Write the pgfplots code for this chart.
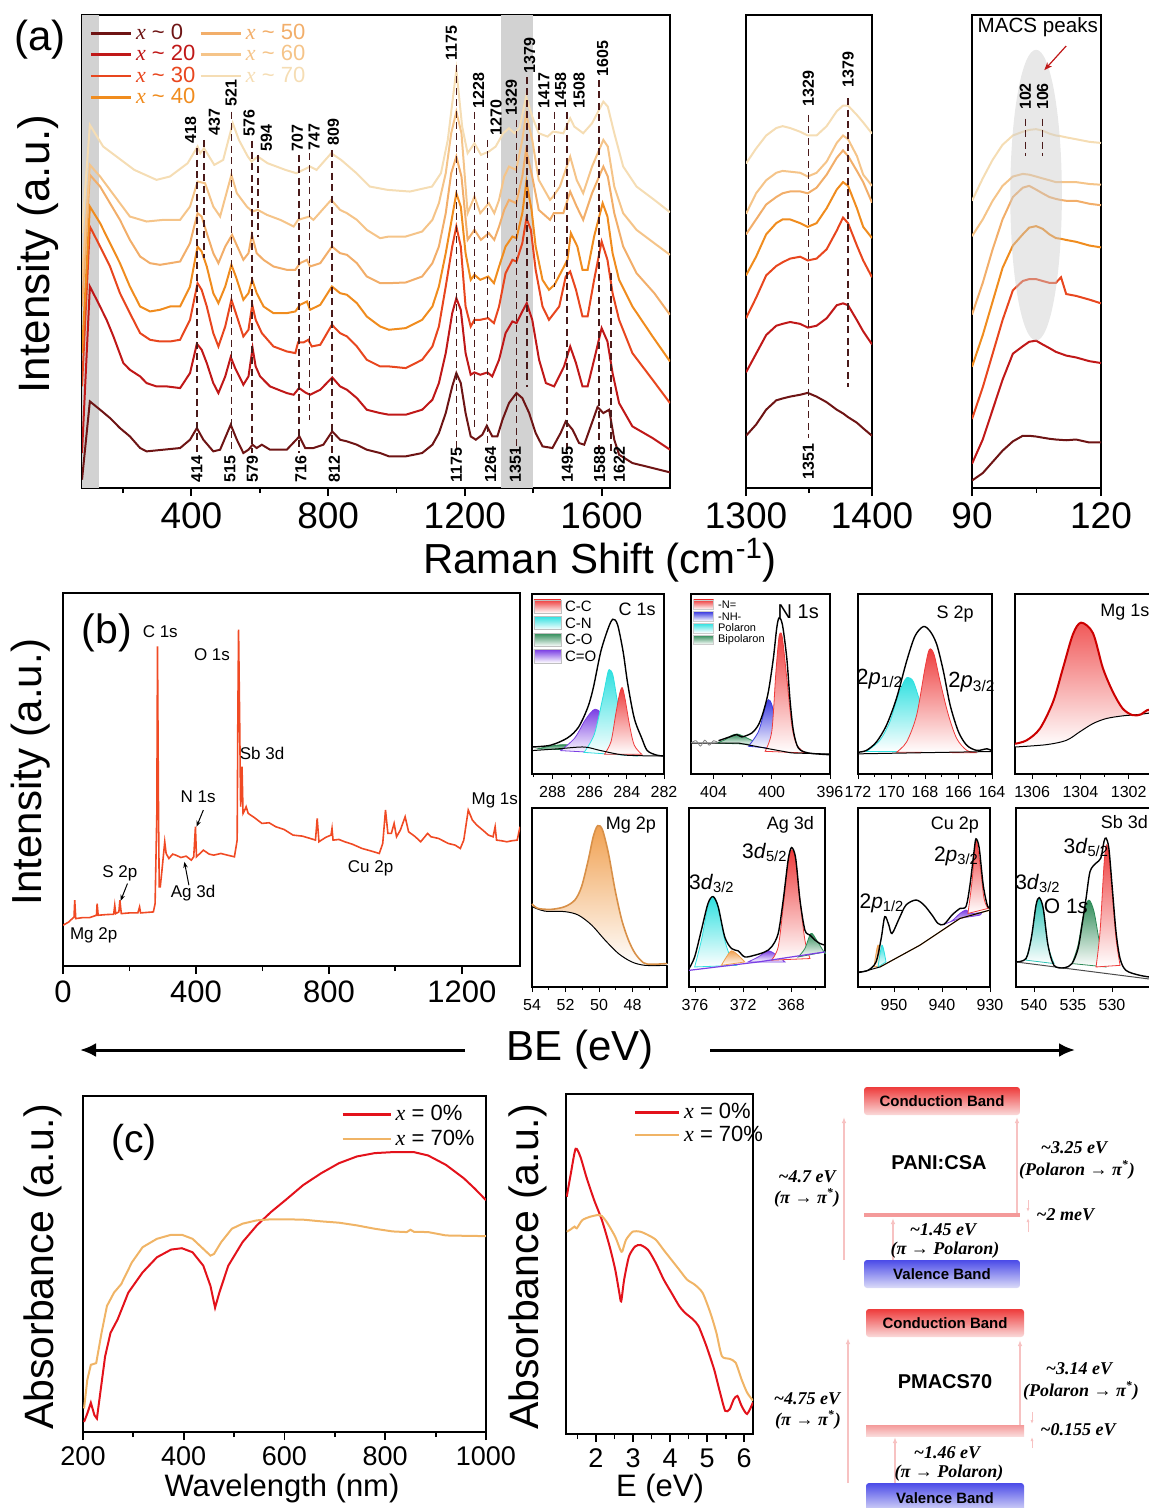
\documentclass[border=0pt]{standalone}
\usepackage{pgfplots}
\pgfplotsset{compat=1.18}
\usepackage{pgfplotstable}
\usepackage{fontspec}
\setmainfont{Liberation Sans}
\newfontfamily\serif{Liberation Serif}
\usetikzlibrary{arrows.meta}
\definecolor{cA}{HTML}{6E1414}
\definecolor{cB}{HTML}{C01818}
\definecolor{cC}{HTML}{E8461E}
\definecolor{cD}{HTML}{F08C1E}
\definecolor{cE}{HTML}{F2AE6A}
\definecolor{cF}{HTML}{F5C489}
\definecolor{cG}{HTML}{F5DDB4}
\definecolor{dashc}{HTML}{4A1A1A}
\definecolor{surv}{HTML}{F04A24}
\definecolor{absred}{HTML}{E3121B}
\definecolor{absor}{HTML}{F0B466}
\definecolor{xred}{HTML}{EE3B3B}
\definecolor{xcyan}{HTML}{2EE0E0}
\definecolor{xgreen}{HTML}{2E8B57}
\definecolor{xpurp}{HTML}{7B3FE4}
\definecolor{xblue}{HTML}{3B3BE0}
\definecolor{xorange}{HTML}{F0A050}
\definecolor{xteal}{HTML}{2EC4B6}
\definecolor{cbTop}{HTML}{EE3B3B}
\definecolor{cbBot}{HTML}{FADADA}
\definecolor{vbTop}{HTML}{4B4BE8}
\definecolor{vbBot}{HTML}{DCDCF8}
\definecolor{pol}{HTML}{F49A9A}
\definecolor{pale}{HTML}{F7C2C2}
\newcommand{\fs}[1]{\fontsize{#1}{#1}\selectfont}
\newcommand{\xv}{{\serif\itshape x}}
\newcommand{\ev}[1]{{\serif\bfseries\itshape #1}}
\newcommand{\dl}[3]{\draw[dashc, dash pattern=on 3.5pt off 2.2pt, line width=0.8pt] (axis cs:#1,#2) -- (axis cs:#1,#3);}
\newcommand{\pl}[3]{\node[rotate=90, anchor=west, font=\fs{8}\bfseries, inner sep=0.5pt] at (axis cs:#1,#2) {#3};}
\pgfplotsset{
  myax/.style={scale only axis, anchor=north west, axis line style={line width=1.1pt},
    ytick=\empty, xtick pos=left, tick align=outside,
    major tick length=4pt, minor tick length=2.5pt,
    every tick/.style={black, line width=0.9pt},
    /pgf/number format/assume math mode=true, /pgf/number format/1000 sep={},
    xticklabel style={font=\fs{18.5}}},
  subax/.style={myax, axis line style={line width=0.7pt}, major tick length=2.5pt, minor tick length=1.5pt,
    every tick/.style={black, line width=0.5pt}, xticklabel style={font=\fs{8}}, x dir=reverse, ymin=0, ymax=100, clip=false},
  comp/.style={draw=#1, line width=0.4pt, top color=#1, bottom color=white, smooth, tension=0.5},
}

\pgfplotstableread{
x c0 c20 c30 c40 c50 c60 c70
1300 1170 1000 855 740 630 575 440
1308 1140 950 800 690 590 520 400
1316 1100 900 740 630 550 485 365
1324 1075 875 715 600 530 465 345
1329 1070 870 705 590 520 460 340
1335 1065 865 695 590 515 462 345
1343 1060 870 690 600 515 465 355
1349 1055 880 700 610 520 475 365
1356 1065 875 695 600 505 465 365
1364 1080 855 670 560 470 435 340
1372 1100 820 620 510 425 385 300
1377 1110 815 585 490 405 365 285
1381 1120 820 600 500 420 375 285
1388 1135 860 660 560 460 420 310
1393 1150 890 700 610 490 470 330
1400 1170 925 745 640 545 500 360
}\insetA

\pgfplotstableread{
x c0 c20 c30 c40 c50 c60 c70
90 1290 1245 1125 985 845 635 540
92.5 1270 1180 1040 900 760 590 480
94.8 1240 1100 950 810 670 540 430
97.1 1210 1020 860 720 590 500 390
99.5 1185 950 780 660 530 475 365
101.8 1170 930 755 630 505 468 355
103.3 1170 918 750 612 500 470 350
104.9 1172 915 750 608 510 475 348
106.4 1175 925 755 615 520 480 352
108 1178 935 760 630 530 485 360
109.5 1180 945 760 640 535 490 365
110.7 1181 950 745 642 538 490 367
111.9 1182 955 790 645 540 490 370
114.2 1180 960 795 650 540 490 375
117.3 1188 970 805 660 548 495 382
120 1188 975 815 665 552 497 385
}\insetB

\begin{document}
\begin{tikzpicture}
\useasboundingbox (0,0) rectangle (574pt,-754pt);

% ================= (a) main Raman =================
\begin{axis}[myax, at={(41pt,-7.5pt)}, width=294pt, height=236.5pt,
  axis line style={line width=1.4pt},
  xmin=80, xmax=1800, y dir=reverse, ymin=-315, ymax=1105,
  xtick={400,800,1200,1600}, minor xtick={200,600,1000,1400},
  legend style={at={(0.012,0.99)}, anchor=north west, draw=none, fill=none, font=\fs{11}, row sep=-2.5pt, inner sep=0pt},
  legend columns=4, transpose legend, legend cell align=left,
  legend image code/.code={\draw[#1, line width=1.3pt] (0pt,0pt) -- (20pt,0pt);}]
\addplot[fill=gray!35, draw=none, forget plot] coordinates {(80,-315) (130,-315) (130,1105) (80,1105)} --cycle;
\addplot[fill=gray!35, draw=none, forget plot] coordinates {(1305,-315) (1400,-315) (1400,1105) (1305,1105)} --cycle;
\addplot[cA, line width=1pt] coordinates {(80,1080) (103,845) (133,870) (162,895) (191,925) (220,950) (250,985) (269,995) (318,990) (367,985) (396,960) (416,925) (435,960) (464,995) (484,990) (515,915) (533,960) (552,1000) (567,990) (579,975) (591,985) (606,975) (630,990) (679,990) (716,950) (733,985) (757,985) (786,975) (812,935) (835,960) (855,965) (884,975) (913,990) (952,1000) (978,1010) (1027,1010) (1075,1000) (1105,975) (1124,940) (1144,880) (1163,800) (1175,760) (1188,790) (1202,880) (1217,950) (1232,960) (1251,945) (1264,918) (1280,950) (1295,950) (1310,900) (1329,850) (1351,820) (1368,835) (1388,880) (1407,940) (1427,980) (1456,985) (1480,940) (1495,905) (1515,930) (1534,970) (1549,975) (1568,920) (1588,862) (1605,880) (1622,870) (1637,960) (1651,1005) (1690,1030) (1749,1045) (1800,1058)};
\addlegendentry{\textcolor{cA}{\xv{} \textasciitilde{} 0}}
\addplot[cB, line width=1pt] coordinates {(80,1000) (103,500) (123,540) (152,600) (172,650) (201,730) (220,750) (250,770) (269,790) (298,800) (328,800) (367,805) (396,760) (416,672) (430,690) (445,730) (464,790) (479,820) (499,770) (515,712) (528,745) (552,795) (567,770) (579,685) (588,740) (601,770) (630,800) (679,820) (699,825) (715,805) (733,818) (747,825) (777,810) (812,773) (835,800) (855,810) (884,835) (913,870) (952,880) (978,885) (1027,885) (1075,870) (1105,840) (1124,790) (1144,700) (1163,580) (1175,535) (1188,570) (1202,700) (1217,765) (1228,758) (1245,765) (1266,758) (1280,770) (1300,720) (1319,640) (1339,605) (1351,610) (1368,575) (1381,550) (1397,600) (1417,720) (1437,790) (1461,800) (1490,740) (1508,680) (1525,730) (1544,800) (1559,800) (1578,720) (1600,625) (1617,665) (1632,760) (1651,850) (1690,920) (1749,955) (1800,990)};
\addlegendentry{\textcolor{cB}{\xv{} \textasciitilde{} 20}}
\addplot[cC, line width=1pt] coordinates {(80,800) (103,320) (133,380) (162,440) (191,520) (220,580) (250,640) (279,660) (308,665) (338,665) (367,660) (396,600) (418,490) (430,510) (445,560) (464,640) (479,680) (499,620) (517,540) (530,580) (552,650) (567,630) (578,555) (588,600) (606,640) (640,680) (679,695) (704,700) (712,668) (728,668) (742,660) (752,680) (777,675) (811,615) (835,640) (855,650) (884,680) (913,720) (952,740) (978,740) (1027,745) (1075,720) (1105,680) (1124,620) (1144,500) (1163,380) (1175,320) (1188,380) (1202,560) (1217,620) (1228,600) (1245,600) (1268,595) (1285,610) (1300,560) (1319,460) (1339,420) (1351,425) (1368,370) (1380,295) (1393,330) (1407,450) (1427,560) (1446,600) (1476,560) (1495,470) (1508,455) (1525,510) (1544,590) (1559,590) (1578,480) (1600,365) (1617,420) (1632,520) (1651,600) (1690,700) (1749,780) (1800,850)};
\addlegendentry{\textcolor{cC}{\xv{} \textasciitilde{} 30}}
\addplot[cD, line width=1pt] coordinates {(80,700) (103,260) (133,310) (162,370) (191,430) (220,500) (250,560) (279,575) (308,570) (338,560) (367,560) (396,500) (418,380) (430,395) (445,440) (464,520) (479,550) (499,500) (517,435) (530,470) (552,540) (567,520) (578,480) (591,520) (611,560) (640,580) (679,580) (704,575) (718,555) (738,545) (747,570) (777,555) (811,500) (835,520) (855,525) (884,550) (913,590) (952,620) (978,630) (1027,625) (1075,600) (1105,560) (1124,500) (1144,400) (1163,290) (1175,220) (1188,260) (1202,400) (1217,480) (1228,465) (1245,480) (1268,470) (1285,490) (1300,440) (1319,380) (1339,350) (1351,355) (1368,280) (1380,185) (1395,270) (1407,380) (1427,480) (1446,510) (1462,495) (1485,450) (1500,420) (1510,340) (1529,380) (1544,450) (1559,450) (1578,350) (1603,250) (1617,290) (1632,400) (1651,480) (1690,560) (1749,650) (1800,725)};
\addlegendentry{\textcolor{cD}{\xv{} \textasciitilde{} 40}}
\addplot[cE, line width=1pt] coordinates {(80,560) (103,165) (133,200) (162,250) (191,300) (220,360) (250,410) (279,430) (308,435) (338,430) (367,425) (396,370) (418,280) (430,290) (445,340) (464,400) (479,430) (499,380) (519,345) (530,370) (552,420) (567,400) (577,345) (591,400) (611,420) (640,440) (679,450) (704,450) (718,430) (738,420) (747,440) (777,430) (811,380) (835,400) (855,405) (884,430) (913,470) (952,490) (978,490) (1027,488) (1075,470) (1105,430) (1124,380) (1144,280) (1160,160) (1175,110) (1190,170) (1208,360) (1228,330) (1247,360) (1270,340) (1286,360) (1300,320) (1315,270) (1329,240) (1350,250) (1368,170) (1379,90) (1397,170) (1416,270) (1449,300) (1460,280) (1488,280) (1508,215) (1527,260) (1546,300) (1572,220) (1605,140) (1618,170) (1637,280) (1663,380) (1702,460) (1754,520) (1800,585)};
\addlegendentry{\textcolor{cE}{\xv{} \textasciitilde{} 50}}
\addplot[cF, line width=1pt] coordinates {(80,480) (103,135) (133,170) (162,210) (191,250) (220,290) (269,305) (318,300) (367,300) (396,260) (418,185) (440,190) (464,260) (484,290) (517,165) (533,220) (562,260) (578,275) (594,270) (621,285) (660,300) (699,320) (712,300) (745,290) (757,300) (809,240) (835,270) (855,280) (884,300) (913,330) (952,355) (978,350) (1027,350) (1075,335) (1105,300) (1124,250) (1144,160) (1160,40) (1175,-25) (1190,40) (1208,280) (1228,230) (1245,280) (1270,250) (1286,280) (1300,240) (1315,170) (1329,140) (1350,150) (1368,60) (1379,-20) (1397,60) (1416,180) (1449,240) (1458,230) (1478,200) (1508,110) (1527,180) (1546,220) (1572,140) (1605,60) (1618,80) (1637,200) (1663,280) (1702,330) (1754,370) (1800,405)};
\addlegendentry{\textcolor{cF}{\xv{} \textasciitilde{} 60}}
\addplot[cG, line width=1pt] coordinates {(80,340) (103,15) (142,80) (181,110) (233,150) (298,180) (337,170) (389,130) (418,80) (426,100) (437,85) (467,135) (493,120) (521,10) (539,60) (565,110) (576,125) (594,110) (623,130) (675,150) (707,160) (727,150) (747,140) (766,150) (809,100) (838,120) (883,160) (922,200) (974,210) (1039,215) (1104,200) (1130,160) (1150,60) (1175,-150) (1192,20) (1208,100) (1228,70) (1247,105) (1270,95) (1290,80) (1312,40) (1329,25) (1345,40) (1360,25) (1379,-70) (1397,-10) (1416,40) (1442,50) (1458,35) (1488,40) (1508,-5) (1520,20) (1546,40) (1572,10) (1605,-55) (1618,-40) (1637,40) (1663,140) (1702,200) (1754,240) (1800,277)};
\addlegendentry{\textcolor{cG}{\xv{} \textasciitilde{} 70}}
\dl{416}{85}{1000} \dl{437}{60}{414} \dl{517}{-25}{1000} \dl{578}{62}{1000}
\dl{594}{105}{351} \dl{714}{105}{1000} \dl{745}{100}{900} \dl{811}{90}{1000}
\dl{1175}{-165}{1000} \dl{1228}{-24}{921} \dl{1266}{60}{1000} \dl{1351}{0}{1000}
\dl{1381}{-129}{801} \dl{1417}{-24}{165} \dl{1462}{-24}{501} \dl{1498}{-24}{1000}
\dl{1593}{-120}{1000} \dl{1627}{459}{1000}
\pl{398}{75}{418} \pl{467}{51}{437} \pl{516}{-36}{521} \pl{569}{54}{576} \pl{619}{99}{594}
\pl{710}{99}{707} \pl{759}{96}{747} \pl{815}{81}{809} \pl{1161}{-174}{1175} \pl{1240}{-30}{1228}
\pl{1291}{51}{1270} \pl{1336}{-9}{1329} \pl{1389}{-135}{1379} \pl{1431}{-30}{1417} \pl{1480}{-30}{1458}
\pl{1534}{-30}{1508} \pl{1603}{-126}{1605}
\pl{416}{1092}{414} \pl{513}{1092}{515} \pl{578}{1092}{579} \pl{720}{1092}{716} \pl{818}{1092}{812}
\pl{1175}{1092}{1175} \pl{1275}{1092}{1264} \pl{1348}{1092}{1351} \pl{1500}{1092}{1495}
\pl{1594}{1092}{1588} \pl{1652}{1092}{1622}
\end{axis}

% inset 1300-1400
\begin{axis}[myax, at={(373pt,-7.5pt)}, width=63pt, height=236.5pt,
  axis line style={line width=1.4pt},
  xmin=1300, xmax=1400, y dir=reverse, ymin=42, ymax=1310,
  xtick={1300,1400}, minor xtick={1350}]
\addplot[cA, line width=1pt] table[x=x, y=c0] {\insetA};
\addplot[cB, line width=1pt] table[x=x, y=c20] {\insetA};
\addplot[cC, line width=1pt] table[x=x, y=c30] {\insetA};
\addplot[cD, line width=1pt] table[x=x, y=c40] {\insetA};
\addplot[cE, line width=1pt] table[x=x, y=c50] {\insetA};
\addplot[cF, line width=1pt] table[x=x, y=c60] {\insetA};
\addplot[cG, line width=1pt] table[x=x, y=c70] {\insetA};
\dl{1349.5}{310}{1175} \dl{1381}{265}{1040}
\pl{1349.5}{290}{1329} \pl{1381}{240}{1379} \pl{1349.5}{1290}{1351}
\end{axis}

% inset 90-120
\begin{axis}[myax, at={(486pt,-7.5pt)}, width=64.5pt, height=236.5pt,
  axis line style={line width=1.4pt},
  xmin=90, xmax=120, y dir=reverse, ymin=42, ymax=1310,
  xtick={90,120}, minor xtick={105}]
\addplot[cA, line width=1pt] table[x=x, y=c0] {\insetB};
\addplot[cB, line width=1pt] table[x=x, y=c20] {\insetB};
\addplot[cC, line width=1pt] table[x=x, y=c30] {\insetB};
\addplot[cD, line width=1pt] table[x=x, y=c40] {\insetB};
\addplot[cE, line width=1pt] table[x=x, y=c50] {\insetB};
\addplot[cF, line width=1pt] table[x=x, y=c60] {\insetB};
\addplot[cG, line width=1pt] table[x=x, y=c70] {\insetB};
\fill[gray!40, opacity=0.45] (axis cs:104.9,525) ellipse [x radius=12.9pt, y radius=72.7pt];
\dl{102.4}{320}{420} \dl{106.4}{320}{420}
\pl{102.4}{300}{102} \pl{106.4}{300}{106}
\node[font=\fs{10.3}] at (axis cs:105.3,75) {MACS peaks};
\draw[cB, -{Stealth[length=4pt]}, line width=0.6pt] (axis cs:111.9,125) -- (axis cs:106.8,190);
\end{axis}

\node[rotate=90, font=\fs{22}] at (19pt,-127pt) {Intensity (a.u.)};
\node[font=\fs{21}] at (20pt,-20pt) {(a)};
\node[font=\fs{21}] at (300pt,-280pt) {Raman Shift (cm\textsuperscript{-1})};

% ================= (b) survey =================
\begin{axis}[myax, at={(31.5pt,-296.5pt)}, width=228.5pt, height=186.5pt,
  axis line style={line width=1.2pt},
  xmin=0, xmax=1375, y dir=reverse, ymin=40, ymax=1157,
  xtick={0,400,800,1200}, minor xtick={200,600,1000},
  xticklabel style={font=\fs{15.5}}]
\addplot[surv, line width=0.8pt] coordinates {(0,1035) (17.6,1025) (33.2,1010) (35.3,960) (38.4,1015) (60,1012) (79.9,1012) (100.7,1005) (102.7,970) (105.8,1005) (130,1003) (152.5,1002) (155.7,975) (158.8,1000) (168.1,995) (171.2,960) (175.4,1000) (200,998) (225.2,998) (230.4,980) (233.5,998) (271.9,995) (277.1,970) (282.3,700) (284.3,200) (287.4,700) (289.5,920) (292.6,920) (297.8,870) (306.1,785) (310.3,820) (318.6,835) (330,822) (339.3,825) (355,832) (370.5,828) (386,840) (393.3,830) (398.5,740) (401.6,830) (422.3,810) (440,822) (453.5,825) (475,820) (495,825) (515.7,830) (524,780) (526.1,400) (528.2,150) (531.3,400) (534.4,680) (538.6,560) (541.7,700) (546.9,690) (551,680) (557.2,700) (575,712) (598.7,730) (620,728) (640.3,740) (665,748) (692.1,765) (720,768) (744,775) (759.6,780) (764.8,715) (770,785) (790,772) (806.3,765) (809.4,745) (812.5,780) (830,778) (847.8,785) (870,792) (899.7,805) (925,812) (951.6,820) (962,790) (970.3,690) (977.5,760) (987.9,760) (996.2,730) (1003.5,770) (1015,750) (1029.4,710) (1039.8,755) (1060,770) (1076.1,785) (1096.9,760) (1107.2,770) (1130,775) (1159.1,790) (1180,795) (1195.4,805) (1205.8,780) (1219.3,690) (1231.7,720) (1245,735) (1262.9,750) (1280,765) (1294,770) (1300.2,740) (1304.4,780) (1320,782) (1335.5,785) (1350,782) (1366.6,780) (1375,740)};
\node[font=\fs{8.5}] at (axis cs:292.6,155) {C 1s};
\node[font=\fs{8.5}] at (axis cs:448.3,225) {O 1s};
\node[font=\fs{8.5}] at (axis cs:598.8,520) {Sb 3d};
\node[font=\fs{8.5}] at (axis cs:406.8,650) {N 1s};
\node[font=\fs{8.5}] at (axis cs:1299,660) {Mg 1s};
\node[font=\fs{8.5}] at (axis cs:925.6,865) {Cu 2p};
\node[font=\fs{8.5}] at (axis cs:171.2,880) {S 2p};
\node[font=\fs{8.5}] at (axis cs:391.2,940) {Ag 3d};
\node[font=\fs{8.5}] at (axis cs:92.4,1065) {Mg 2p};
\node[font=\fs{20.5}] at (axis cs:131.8,160) {(b)};
\draw[-{Stealth[length=3pt]}, line width=0.5pt] (axis cs:422.3,690) -- (axis cs:401.6,740);
\draw[-{Stealth[length=3pt]}, line width=0.5pt] (axis cs:194,910) -- (axis cs:173.3,962);
\draw[-{Stealth[length=3pt]}, line width=0.5pt] (axis cs:378.8,915) -- (axis cs:365.3,845);
\end{axis}
\node[rotate=90, font=\fs{21}] at (15.5pt,-386pt) {Intensity (a.u.)};

% ---- C 1s
\begin{axis}[subax, at={(266pt,-297pt)}, width=66pt, height=90pt, xmin=282, xmax=289.1,
  xtick={282,284,286,288}, minor xtick={283,285,287,289}]
\addplot[comp=xgreen] coordinates {(288.8,14) (288.1,15.5) (287.4,16.3) (286.7,15.5) (285.9,13)} --cycle;
\addplot[comp=xpurp] coordinates {(287.55,13) (286.8,20) (286.3,29) (285.95,34) (285.7,36) (285.4,34) (285.03,26) (284.6,16) (284.13,11)} --cycle;
\addplot[comp=xcyan] coordinates {(286.3,12) (285.75,22) (285.3,42) (285.05,55) (284.95,58) (284.75,55) (284.5,40) (284.13,22) (283.77,12) (283.4,10)} --cycle;
\addplot[comp=xred] coordinates {(285.2,11) (284.85,18) (284.6,33) (284.4,44) (284.25,48) (284.1,42) (283.85,27) (283.6,16) (283.2,11)} --cycle;
\addplot[black, line width=0.5pt, smooth] coordinates {(289.1,13) (287.7,14) (286.3,15) (285.4,13) (284.1,10.5) (282,10)};
\addplot[black, line width=0.7pt, smooth, tension=0.5] coordinates {(289.1,15) (288.1,16) (287.2,20) (286.6,26) (286.1,37) (285.8,48) (285.4,68) (285.0,81) (284.75,86) (284.5,83) (284.2,68) (283.95,50) (283.6,31) (283.2,20) (282.9,13) (282.4,10.5) (282,10)};
\shade[top color=xred, bottom color=white, draw=gray!50, line width=0.2pt] (axis cs:289,96.8) rectangle (axis cs:287.55,89.4);
\shade[top color=xcyan, bottom color=white, draw=gray!50, line width=0.2pt] (axis cs:289,87.6) rectangle (axis cs:287.55,80.2);
\shade[top color=xgreen, bottom color=white, draw=gray!50, line width=0.2pt] (axis cs:289,78.3) rectangle (axis cs:287.55,70.9);
\shade[top color=xpurp, bottom color=white, draw=gray!50, line width=0.2pt] (axis cs:289,69.1) rectangle (axis cs:287.55,61.7);
\node[anchor=west, font=\fs{7.5}, inner sep=1pt] at (axis cs:287.45,93.1) {C-C};
\node[anchor=west, font=\fs{7.5}, inner sep=1pt] at (axis cs:287.45,83.9) {C-N};
\node[anchor=west, font=\fs{7.5}, inner sep=1pt] at (axis cs:287.45,74.6) {C-O};
\node[anchor=west, font=\fs{7.5}, inner sep=1pt] at (axis cs:287.45,65.4) {C=O};
\node[anchor=north east, font=\fs{9}] at (rel axis cs:0.99,0.99) {C 1s};
\end{axis}

% ---- N 1s
\begin{axis}[subax, at={(345.5pt,-297pt)}, width=69.5pt, height=90pt, xmin=396, xmax=405.55,
  xtick={396,400,404}, minor xtick={398,402}]
\addplot[comp=xgreen] coordinates {(403.77,17.2) (403.2,19.1) (402.74,21.5) (402.35,22.2) (401.94,20.9) (401.37,18.7) (400.69,16.3)} --cycle;
\addplot[comp=xblue] coordinates {(401.6,15.4) (400.91,23.7) (400.46,36.7) (400.23,41.3) (400,38.5) (399.66,27.4) (399.31,18.1) (398.86,13.5)} --cycle;
\addplot[comp=xred] coordinates {(400.46,12.6) (400,23.7) (399.73,55.2) (399.54,73.7) (399.43,78.3) (399.27,75.6) (398.97,53.3) (398.63,27.4) (398.29,16.3) (397.71,11.7)} --cycle;
\addplot[black, line width=0.5pt] coordinates {(405.55,17.2) (402.29,17.2) (400.46,14.4) (398.63,11.7) (396,11.1)};
\addplot[gray, line width=0.4pt, smooth] coordinates {(405.55,17.2) (405.2,18.5) (404.9,15.5) (404.6,18.8) (404.3,16) (404,18.5) (403.7,17.5)};
\addplot[black, line width=0.7pt, smooth, tension=0.5] coordinates {(403.66,18.5) (402.97,20.4) (402.4,21.9) (402.06,20.6) (401.37,22.8) (400.91,27.4) (400.57,34.8) (400.23,45.9) (399.89,64.4) (399.66,81.1) (399.5,86.7) (399.27,83) (398.97,64.4) (398.74,40.4) (398.51,23.7) (398.17,14.4) (397.49,11.7) (396,10.7)};
\shade[top color=xred, bottom color=white, draw=gray!40, line width=0.2pt] (axis cs:405.37,96.7) rectangle (axis cs:404,91.5);
\shade[top color=xblue, bottom color=white, draw=gray!40, line width=0.2pt] (axis cs:405.37,90.2) rectangle (axis cs:404,85);
\shade[top color=xcyan, bottom color=white, draw=gray!40, line width=0.2pt] (axis cs:405.37,83.7) rectangle (axis cs:404,78.5);
\shade[top color=xgreen, bottom color=white, draw=gray!40, line width=0.2pt] (axis cs:405.37,77.2) rectangle (axis cs:404,72);
\node[anchor=west, font=\fs{5.5}, inner sep=1pt] at (axis cs:403.85,94.1) {-N=};
\node[anchor=west, font=\fs{5.5}, inner sep=1pt] at (axis cs:403.85,87.6) {-NH-};
\node[anchor=west, font=\fs{5.5}, inner sep=1pt] at (axis cs:403.85,81.1) {Polaron};
\node[anchor=west, font=\fs{5.5}, inner sep=1pt] at (axis cs:403.85,74.6) {Bipolaron};
\node[anchor=north east, font=\fs{10}] at (rel axis cs:0.97,0.98) {N 1s};
\end{axis}

% ---- S 2p
\begin{axis}[subax, at={(429pt,-297pt)}, width=67pt, height=90pt, xmin=164, xmax=172,
  xtick={164,166,168,170,172}, minor xtick={165,167,169,171}]
\addplot[comp=xcyan] coordinates {(171.5,12.5) (170.7,18.7) (170.1,29) (169.6,43.9) (169.2,52.3) (169.0,53.6) (168.7,51.4) (168.3,40.2) (167.8,25.2) (167.3,15.9) (166.7,12.5)} --cycle;
\addplot[comp=xred] coordinates {(169.7,12.1) (169.1,17.8) (168.5,32.7) (168.0,58.9) (167.74,69.2) (167.46,66.4) (167.1,51.4) (166.6,32.7) (166.1,19.6) (165.5,13.1) (164.9,11.8)} --cycle;
\addplot[black, line width=0.5pt] coordinates {(172,11.2) (164,12.5)};
\addplot[black, line width=0.7pt, smooth, tension=0.5] coordinates {(172,12.1) (171.5,13.1) (170.9,17.8) (170.3,27.1) (169.7,42.1) (169.1,62.6) (168.6,76.6) (168.1,81.9) (167.7,79.4) (167.3,72) (166.9,57) (166.5,38.3) (166.0,23.4) (165.5,15.9) (164.9,13.1) (164.3,14) (164,12.8)};
\node[font=\fs{11}] at (axis cs:170.7,53) {2\textit{p}\textsubscript{1/2}};
\node[font=\fs{11}] at (axis cs:165.2,51) {2\textit{p}\textsubscript{3/2}};
\node[font=\fs{9}] at (axis cs:166.2,89) {S 2p};
\end{axis}

% ---- Mg 1s
\begin{axis}[subax, at={(507.5pt,-297pt)}, width=72.5pt, height=90pt, xmin=1300.7, xmax=1306.71,
  xtick={1302,1304,1306}, minor xtick={1301,1303,1305}]
\addplot[draw=none, top color=xred!85, bottom color=white, smooth, tension=0.5] coordinates {(1306.71,16.8) (1306.23,18.7) (1305.68,25.2) (1305.13,40.2) (1304.72,58.9) (1304.31,77.6) (1303.97,84.1) (1303.48,78.3) (1303.07,58.9) (1302.66,45.8) (1302.25,36.4) (1301.84,32.7) (1301.49,33.1) (1301.23,35.5) (1300.74,36.4) (1300.74,34.6) (1301.56,33.1) (1302.25,32.3) (1302.93,30.8) (1303.48,28) (1304.03,23.4) (1304.58,18.7) (1305.41,16.3) (1306.71,15)} --cycle;
\addplot[black, line width=0.5pt, smooth] coordinates {(1306.71,15) (1305.41,16.3) (1304.58,18.7) (1304.03,23.4) (1303.48,28) (1302.93,30.8) (1302.25,32.3) (1301.56,33.1) (1300.74,34.6)};
\addplot[red!80!black, line width=1pt, smooth, tension=0.5] coordinates {(1306.71,16.8) (1306.23,18.7) (1305.68,25.2) (1305.13,40.2) (1304.72,58.9) (1304.31,77.6) (1303.97,84.1) (1303.48,78.3) (1303.07,58.9) (1302.66,45.8) (1302.25,36.4) (1301.84,32.7) (1301.49,33.1) (1301.23,35.5) (1300.74,36.4)};
\node[anchor=west, font=\fs{9}] at (rel axis cs:0.54,0.9) {Mg 1s};
\end{axis}

% ---- Mg 2p
\begin{axis}[subax, at={(266pt,-404pt)}, width=67.5pt, height=89.5pt, xmin=45.94, xmax=54,
  xtick={48,50,52,54}, minor xtick={47,49,51,53}]
\addplot[draw=none, top color=xorange, bottom color=white, smooth, tension=0.5] coordinates {(54,46.4) (53.64,43.9) (52.84,43.4) (52.04,44.9) (51.44,48.6) (51.04,56.1) (50.64,71) (50.34,84.1) (50.08,90.1) (49.8,87.9) (49.44,74.8) (49.04,54.2) (48.64,37.4) (48.24,26.2) (47.84,18.7) (47.34,13.5) (46.84,12.7) (45.94,13.1) (45.94,12.1) (47.24,12.1) (48.04,14) (48.84,18.7) (49.64,26.2) (50.44,34.6) (51.24,40.2) (52.04,42.1) (53.24,42.4) (54,44.9)} --cycle;
\addplot[black, line width=0.5pt, smooth] coordinates {(54,44.9) (53.24,42.4) (52.04,42.1) (51.24,40.2) (50.44,34.6) (49.64,26.2) (48.84,18.7) (48.04,14) (47.24,12.1) (45.94,12.1)};
\addplot[xorange!90!black, line width=0.8pt, smooth, tension=0.5] coordinates {(54,46.4) (53.64,43.9) (52.84,43.4) (52.04,44.9) (51.44,48.6) (51.04,56.1) (50.64,71) (50.34,84.1) (50.08,90.1) (49.8,87.9) (49.44,74.8) (49.04,54.2) (48.64,37.4) (48.24,26.2) (47.84,18.7) (47.34,13.5) (46.84,12.7) (45.94,13.1)};
\node[anchor=north east, font=\fs{9}] at (rel axis cs:0.97,0.99) {Mg 2p};
\end{axis}

% ---- Ag 3d
\begin{axis}[subax, at={(344.5pt,-404pt)}, width=68pt, height=89.5pt, xmin=365.2, xmax=376.5,
  xtick={368,372,376}, minor xtick={366,370,374}]
\addplot[comp=xcyan] coordinates {(376.03,11.2) (375.47,26.2) (374.92,44.9) (374.5,50.5) (374.08,44.9) (373.53,26.2) (372.97,15) (372.56,12.1)} --cycle;
\addplot[comp=xorange] coordinates {(373.81,12.1) (373.39,16.8) (372.97,20.2) (372.42,17.8) (371.86,14)} --cycle;
\addplot[comp=xpurp] coordinates {(371.59,14) (370.75,16.8) (369.92,20.2) (369.23,17.8) (368.53,14)} --cycle;
\addplot[comp=xred] coordinates {(369.64,15) (369.09,22.4) (368.67,44.9) (368.26,70.1) (367.98,76.6) (367.64,71) (367.28,48.6) (366.87,26.2) (366.45,15.9)} --cycle;
\addplot[comp=xgreen] coordinates {(367.42,16.8) (366.87,21.5) (366.37,29.9) (365.9,26.2) (365.2,18.7) (365.2,19.6)} --cycle;
\addplot[xpurp, line width=0.6pt] coordinates {(376.5,9.3) (370.75,14) (365.2,19.6)};
\addplot[black, line width=0.7pt, smooth, tension=0.5] coordinates {(376.5,10.3) (376.03,16.8) (375.47,31.8) (374.92,46.7) (374.5,50.5) (374.08,44.9) (373.53,28) (372.97,21.5) (372.42,20.2) (371.86,16.8) (371.03,17.8) (370.2,19.6) (369.64,22.4) (369.09,29.9) (368.67,48.6) (368.26,71) (367.98,77.9) (367.64,72) (367.28,48.6) (366.87,31.8) (366.45,29) (366.03,26.2) (365.62,24.3) (365.2,23.4)};
\node[font=\fs{10.5}] at (axis cs:374.6,58) {3\textit{d}\textsubscript{3/2}};
\node[font=\fs{10.5}] at (axis cs:370.2,75) {3\textit{d}\textsubscript{5/2}};
\node[anchor=north east, font=\fs{9}] at (rel axis cs:0.97,0.99) {Ag 3d};
\end{axis}

% ---- Cu 2p
\begin{axis}[subax, at={(429pt,-404pt)}, width=66pt, height=89.5pt, xmin=930, xmax=957.5,
  xtick={930,940,950}, minor xtick={935,945,955}]
\addplot[comp=xpurp] coordinates {(939.6,35) (937.92,37) (936.25,41.1) (935,43) (933.75,41.1) (932.08,41.5) (932.08,40.2) (936.25,38.3) (939.6,35)} --cycle;
\addplot[comp=xred] coordinates {(934.6,41.1) (933.75,58.9) (932.92,81.7) (932.08,68.2) (931.25,49.5) (930.42,43.9)} --cycle;
\addplot[comp=xorange] coordinates {(954.17,11.2) (953.33,23.4) (952.5,12.1)} --cycle;
\addplot[comp=xcyan] coordinates {(953.33,11.2) (952.5,23.4) (951.67,14)} --cycle;
\addplot[xorange, line width=0.6pt] coordinates {(952.9,11.2) (944.58,23.4) (936.25,38.3) (930,43)};
\addplot[black, line width=0.5pt] coordinates {(957.25,8) (952.9,11.2) (944.58,23.4) (936.25,38.3) (930,43)};
\addplot[black, line width=0.7pt, smooth, tension=0.5] coordinates {(957.25,8.4) (955.42,9.3) (953.75,14) (952.67,27.1) (951.92,39.3) (951.08,34.6) (950.42,29.9) (948.92,38.3) (947.5,45.8) (945.42,48.6) (943.75,45.8) (942.08,40.2) (940.83,35.5) (939.58,35) (937.92,40.2) (936.25,43.9) (935,45) (934.17,57) (933.33,75.7) (932.92,82.8) (932.25,77.6) (931.42,57) (930.58,45.8) (930,43.9)};
\node[font=\fs{10.5}] at (axis cs:952.5,47) {2\textit{p}\textsubscript{1/2}};
\node[font=\fs{10.5}] at (axis cs:937,73) {2\textit{p}\textsubscript{3/2}};
\node[anchor=north east, font=\fs{9}] at (rel axis cs:0.97,0.99) {Cu 2p};
\end{axis}

% ---- Sb 3d
\begin{axis}[subax, at={(508pt,-404pt)}, width=72pt, height=89.5pt, xmin=523.85, xmax=542.31,
  xtick={530,535,540}]
\addplot[comp=xteal] coordinates {(541.03,15) (540.26,29) (539.74,45.8) (539.33,49.5) (538.82,43.9) (538.21,23.4) (537.44,13.1)} --cycle;
\addplot[comp=xgreen] coordinates {(535.13,13.1) (534.36,23.4) (533.59,42.1) (532.97,48.6) (532.31,42.1) (531.54,23.4) (530.77,11.2)} --cycle;
\addplot[comp=xred] coordinates {(532.05,11.2) (531.54,30.8) (531.03,68.2) (530.72,79.4) (530.41,73.8) (530,53.3) (529.49,27.1) (528.97,12.1)} --cycle;
\addplot[black!70, line width=0.5pt] coordinates {(542.31,14) (523.85,3.7)};
\addplot[black, line width=0.7pt, smooth, tension=0.5] coordinates {(542.31,14) (541.03,15.9) (540.36,27.1) (539.74,45.8) (539.33,49.9) (538.82,43.9) (538.21,23.4) (537.44,12.1) (536.15,10.7) (535.13,13.1) (534.36,21.5) (533.85,34.6) (533.33,49.5) (532.82,64.5) (532.05,69.2) (531.44,72) (531.03,81.3) (530.77,83.2) (530.41,77.6) (530,57) (529.49,30.8) (528.97,15.9) (528.21,9.3) (526.41,6.5) (523.85,4.7)};
\node[font=\fs{10.5}] at (axis cs:539.5,58) {3\textit{d}\textsubscript{3/2}};
\node[font=\fs{10.5}] at (axis cs:535.9,45) {O 1\textit{s}};
\node[font=\fs{10.5}] at (axis cs:533.3,78) {3\textit{d}\textsubscript{5/2}};
\node[anchor=west, font=\fs{9}] at (rel axis cs:0.54,0.92) {Sb 3d};
\end{axis}

% BE arrows
\node[font=\fs{21}] at (290pt,-525pt) {BE (eV)};
\draw[-{Latex[length=8pt, width=7pt]}, line width=1.5pt] (232.5pt,-525pt) -- (40pt,-525pt);
\draw[-{Latex[length=8pt, width=7pt]}, line width=1.5pt] (355pt,-525pt) -- (537.5pt,-525pt);

% ================= (c) wavelength =================
\begin{axis}[myax, at={(41.5pt,-548pt)}, width=201.5pt, height=168pt,
  axis line style={line width=1.1pt},
  xmin=200, xmax=1000, ymin=0, ymax=100,
  xtick={200,400,600,800,1000}, minor xtick={300,500,700,900},
  xticklabel style={font=\fs{13.5}},
  legend style={at={(0.64,0.985)}, anchor=north west, draw=none, fill=none, font=\fs{11}, row sep=-1pt, inner sep=0pt},
  legend cell align=left,
  legend image code/.code={\draw[#1, line width=1.2pt] (0pt,0pt) -- (24pt,0pt);}]
\addplot[absred, line width=1pt] coordinates {(202.1,3) (208.5,5.5) (215.6,8.7) (222.7,5) (227.6,4) (233.3,10.5) (243.9,22.5) (254.6,29.5) (268.7,33.5) (290,41.5) (318.3,47.5) (346.7,52) (375,54.3) (396.3,54.7) (417.5,53.5) (438.8,49.5) (453,43.5) (462.2,37) (470.7,41.5) (488.4,49.5) (516.7,56.5) (545.1,61.5) (573.4,65.5) (601.8,69) (637.2,73.5) (672.6,77) (708.1,80) (743.5,82) (778.9,83) (814.4,83.3) (856.9,83.3) (885.2,82.3) (920.6,79.5) (956.1,75.5) (977.3,72.5) (1000,69)};
\addlegendentry{\xv{} = 0\%}
\addplot[absor, line width=1pt] coordinates {(202.1,7) (208.5,15.5) (215.6,20) (226.2,20.5) (236.8,29.5) (247.5,37.5) (261.6,41.5) (275.8,44) (297.1,50.5) (318.3,55) (346.7,57.5) (375,58.7) (396.3,58.7) (417.5,57.5) (438.8,54.5) (453,52.5) (460.1,53) (474.3,56.5) (495.5,60.5) (516.7,62) (545.1,63) (573.4,63.3) (601.8,63.3) (637.2,63.2) (672.6,62.7) (708.1,62.3) (743.5,61.5) (778.9,60.5) (814.4,59.7) (842.7,59.5) (850,60.2) (856.9,59.6) (885.2,59.5) (920.6,58.5) (956.1,58.4) (1000,58.3)};
\addlegendentry{\xv{} = 70\%}
\end{axis}
\node[rotate=90, font=\fs{20.5}] at (21.5pt,-633.5pt) {Absorbance (a.u.)};
\node[font=\fs{15.5}] at (141pt,-744pt) {Wavelength (nm)};
\node[font=\fs{19.5}] at (67pt,-571pt) {(c)};

% ================= (c) energy =================
\begin{axis}[myax, at={(283pt,-547pt)}, width=93.5pt, height=170pt,
  axis line style={line width=1.1pt},
  xmin=1.19, xmax=6.24, ymin=0, ymax=100,
  xtick={2,3,4,5,6}, minor xtick={1.5,2.5,3.5,4.5,5.5},
  xticklabel style={font=\fs{13.5}},
  legend style={at={(0.36,0.985)}, anchor=north west, draw=none, fill=none, font=\fs{11}, row sep=-2pt, inner sep=0pt},
  legend cell align=left,
  legend image code/.code={\draw[#1, line width=1.2pt] (0pt,0pt) -- (22pt,0pt);}]
\addplot[absred, line width=1pt, smooth, tension=0.4] coordinates {(1.21,69.8) (1.32,76.6) (1.45,83.9) (1.58,81.5) (1.74,75.6) (1.95,68.8) (2.16,62.9) (2.37,55.1) (2.52,48.3) (2.63,41.5) (2.68,39) (2.76,45.4) (2.89,52.2) (3.05,55.1) (3.2,55.6) (3.41,54.1) (3.62,50.2) (3.83,45.4) (4.04,41.5) (4.25,37.6) (4.41,35.6) (4.62,33.7) (4.77,31.7) (4.98,25.9) (5.19,19) (5.35,12.2) (5.49,6.8) (5.61,7.3) (5.72,10.2) (5.82,11.2) (5.93,8.3) (6.08,5.9) (6.24,9.3)};
\addlegendentry{\xv{} = 0\%}
\addplot[absor, line width=1pt, smooth, tension=0.4] coordinates {(1.21,59.5) (1.32,60.2) (1.42,61) (1.48,60.5) (1.63,62.9) (1.84,63.9) (2.05,64.4) (2.16,64.1) (2.31,62) (2.52,58) (2.66,54.1) (2.71,53.7) (2.81,57.1) (2.99,59.5) (3.2,59.5) (3.41,58.5) (3.62,57.1) (3.83,54.1) (4.04,51.2) (4.25,48.3) (4.46,45.4) (4.67,43.9) (4.88,41.5) (5.09,35.6) (5.25,29.8) (5.4,22.9) (5.61,22.1) (5.77,21) (5.93,16.1) (6.08,12.2) (6.24,9.8)};
\addlegendentry{\xv{} = 70\%}
\end{axis}
\node[rotate=90, font=\fs{20.5}] at (264pt,-633.5pt) {Absorbance (a.u.)};
\node[font=\fs{15.5}] at (330pt,-744pt) {E (eV)};

% ================= band diagrams =================
\shade[top color=cbTop, bottom color=cbBot, rounded corners=1.5pt] (432pt,-543.5pt) rectangle (510pt,-557.5pt);
\node[font=\fs{7.5}\bfseries] at (471pt,-550.5pt) {Conduction Band};
\shade[top color=vbTop, bottom color=vbBot, rounded corners=1.5pt] (432pt,-630pt) rectangle (510pt,-644pt);
\node[font=\fs{7.5}\bfseries] at (471pt,-637pt) {Valence Band};
\fill[pol] (432pt,-606.5pt) rectangle (510pt,-608.5pt);
\node[font=\fs{10}\bfseries] at (469.5pt,-581.5pt) {PANI:CSA};
\draw[pale, line width=0.6pt, -{Latex[length=3pt]}] (422pt,-630pt) -- (422pt,-558.5pt);
\draw[pale, line width=0.6pt, -{Latex[length=3pt]}] (508.5pt,-606.5pt) -- (508.5pt,-558.5pt);
\draw[pale, line width=0.6pt, -{Latex[length=3pt]}] (446.5pt,-630pt) -- (446.5pt,-609pt);
\draw[pale, line width=0.4pt, -{Latex[length=2pt]}] (514pt,-600pt) -- (514pt,-606pt);
\draw[pale, line width=0.4pt, -{Latex[length=2pt]}] (514pt,-616pt) -- (514pt,-609pt);
\node[font=\fs{9}, inner sep=1pt] at (403.5pt,-588.5pt) {\ev{\textasciitilde4.7 eV}};
\node[font=\fs{9}, inner sep=1pt] at (403.5pt,-599pt) {\ev{(π → π\textsuperscript{*})}};
\node[font=\fs{9}, inner sep=1pt] at (537pt,-574pt) {\ev{\textasciitilde3.25 eV}};
\node[font=\fs{9}, inner sep=1pt] at (538.5pt,-585pt) {\ev{(Polaron → π\textsuperscript{*})}};
\node[font=\fs{9}, anchor=west, inner sep=1pt] at (517pt,-607.5pt) {\ev{\textasciitilde2 meV}};
\node[font=\fs{9}, inner sep=1pt] at (471.5pt,-615pt) {\ev{\textasciitilde1.45 eV}};
\node[font=\fs{9}, inner sep=1pt] at (472.5pt,-625pt) {\ev{(π → Polaron)}};
\shade[top color=cbTop, bottom color=cbBot, rounded corners=1.5pt] (433pt,-654.5pt) rectangle (512pt,-668.5pt);
\node[font=\fs{7.5}\bfseries] at (472.5pt,-661.5pt) {Conduction Band};
\shade[top color=pol, bottom color=cbBot] (433pt,-712.5pt) rectangle (512pt,-718pt);
\shade[top color=vbTop, bottom color=vbBot, rounded corners=1.5pt] (433pt,-741.5pt) rectangle (512pt,-756pt);
\node[font=\fs{7.5}\bfseries] at (472.5pt,-749pt) {Valence Band};
\node[font=\fs{10}\bfseries] at (472.5pt,-691pt) {PMACS70};
\draw[pale, line width=0.6pt, -{Latex[length=3pt]}] (424pt,-741.5pt) -- (424pt,-669pt);
\draw[pale, line width=0.6pt, -{Latex[length=3pt]}] (510pt,-712.5pt) -- (510pt,-670pt);
\draw[pale, line width=0.6pt, -{Latex[length=3pt]}] (447.5pt,-741.5pt) -- (447.5pt,-718.5pt);
\draw[pale, line width=0.4pt, -{Latex[length=2pt]}] (516pt,-706pt) -- (516pt,-712pt);
\draw[pale, line width=0.4pt, -{Latex[length=2pt]}] (516pt,-724pt) -- (516pt,-718.5pt);
\node[font=\fs{9}, inner sep=1pt] at (403.5pt,-699.5pt) {\ev{\textasciitilde4.75 eV}};
\node[font=\fs{9}, inner sep=1pt] at (404pt,-710pt) {\ev{(π → π\textsuperscript{*})}};
\node[font=\fs{9}, inner sep=1pt] at (539.5pt,-684.5pt) {\ev{\textasciitilde3.14 eV}};
\node[font=\fs{9}, inner sep=1pt] at (540.5pt,-695.5pt) {\ev{(Polaron → π\textsuperscript{*})}};
\node[font=\fs{9}, anchor=west, inner sep=1pt] at (519pt,-715pt) {\ev{\textasciitilde0.155 eV}};
\node[font=\fs{9}, inner sep=1pt] at (473.5pt,-726.5pt) {\ev{\textasciitilde1.46 eV}};
\node[font=\fs{9}, inner sep=1pt] at (474.5pt,-736.5pt) {\ev{(π → Polaron)}};
\end{tikzpicture}
\end{document}
